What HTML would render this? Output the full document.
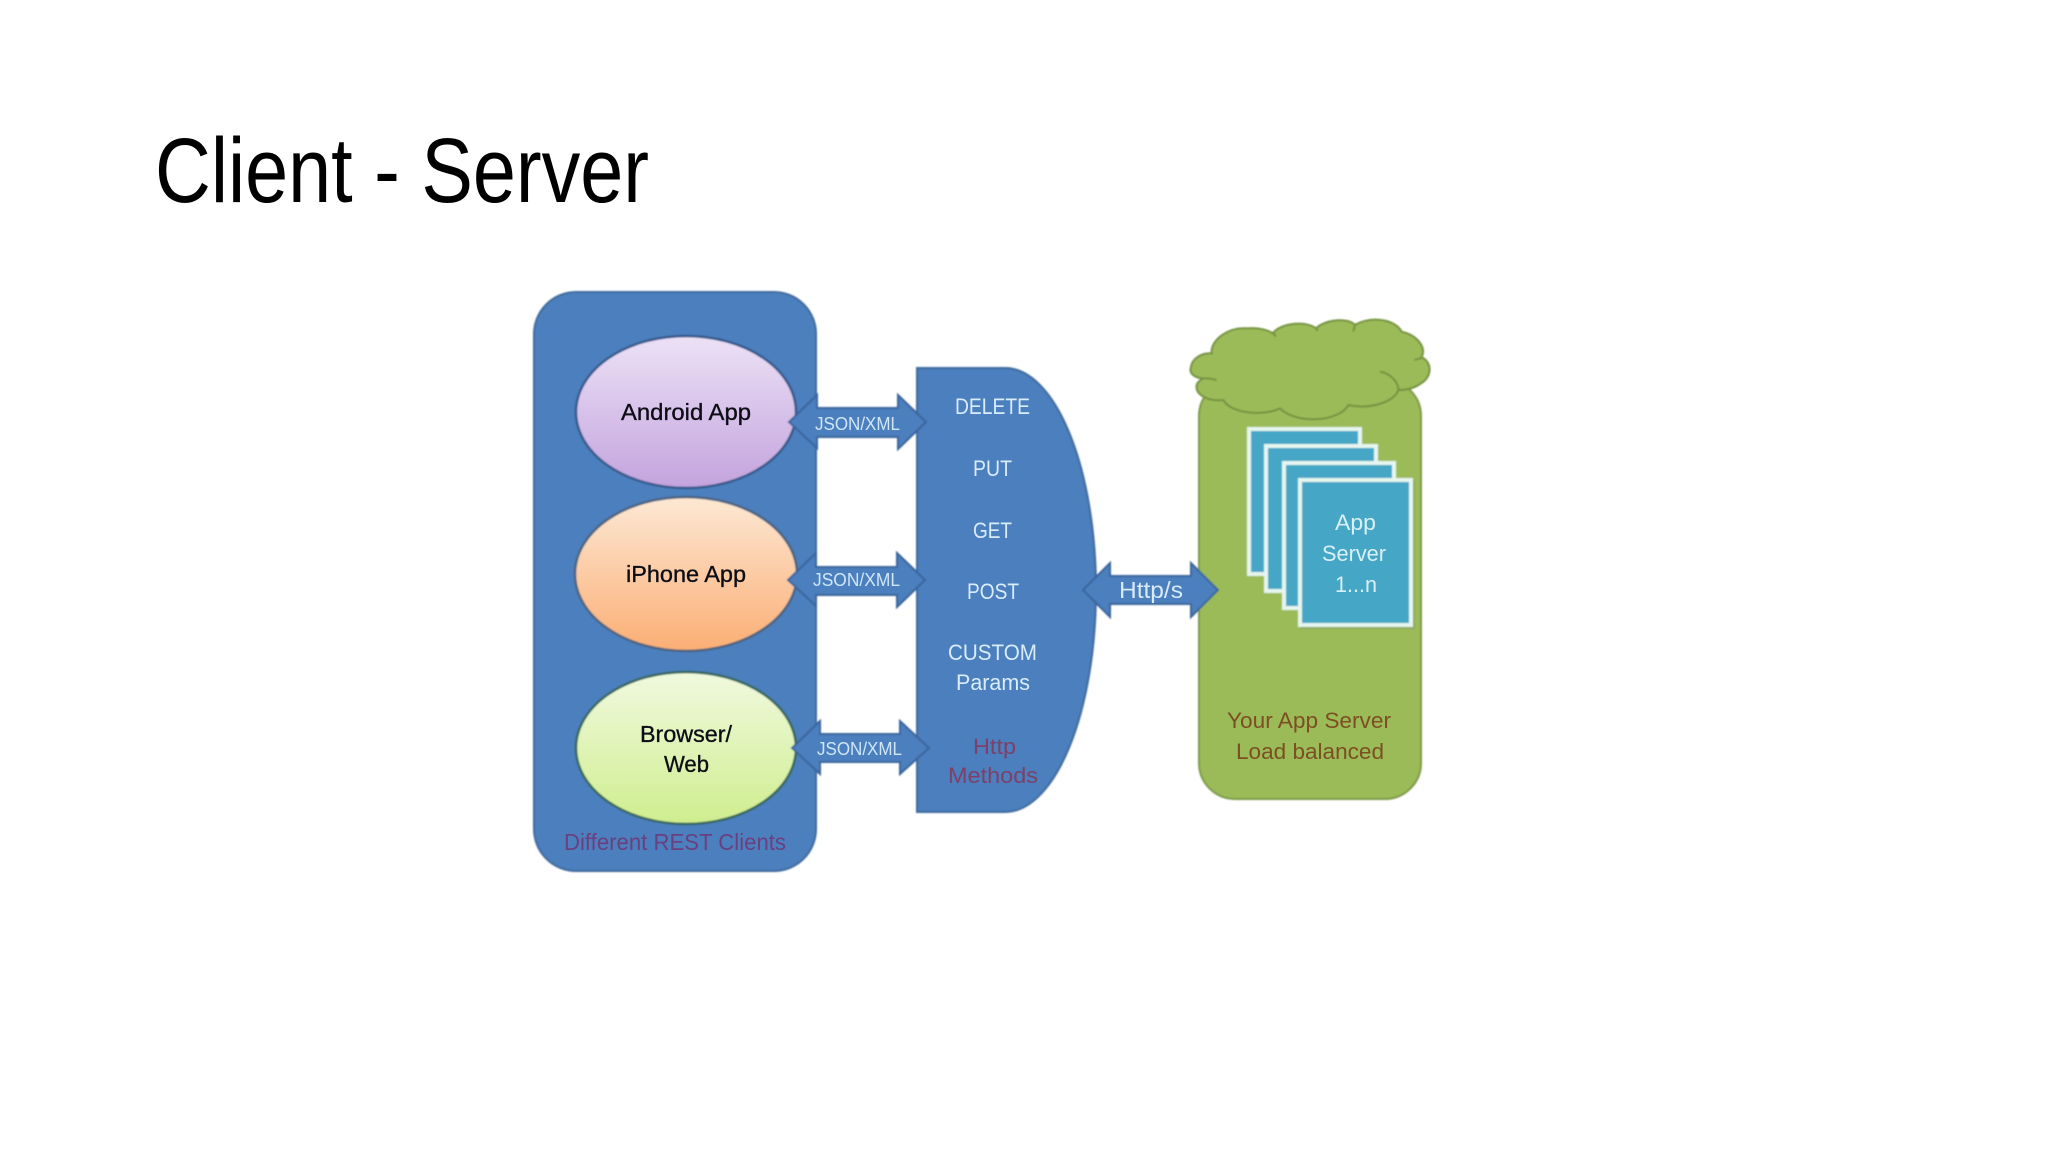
<!DOCTYPE html>
<html lang="en">
<head>
<meta charset="utf-8">
<title>Client - Server</title>
<style>
html,body{margin:0;padding:0;background:#fff}
svg{display:block}
text{font-family:"Liberation Sans",Arial,sans-serif}
</style>
</head>
<body>
<svg xmlns="http://www.w3.org/2000/svg" width="2048" height="1152" viewBox="0 0 2048 1152">
<defs>
<linearGradient id="g1" x1="0" y1="0" x2="0" y2="1"><stop offset="0" stop-color="#ece1f6"/><stop offset="1" stop-color="#c3a3dd"/></linearGradient>
<linearGradient id="g2" x1="0" y1="0" x2="0" y2="1"><stop offset="0" stop-color="#fde8d4"/><stop offset="1" stop-color="#fbae74"/></linearGradient>
<linearGradient id="g3" x1="0" y1="0" x2="0" y2="1"><stop offset="0" stop-color="#f0f9df"/><stop offset="1" stop-color="#cfee8e"/></linearGradient>
<filter id="soft" x="-2%" y="-2%" width="104%" height="104%"><feGaussianBlur stdDeviation="0.7"/></filter>
<filter id="softer" x="-2%" y="-2%" width="104%" height="104%"><feGaussianBlur stdDeviation="0.35"/></filter>
</defs>
<rect width="2048" height="1152" fill="#fff"/>
<text x="155" y="202" font-size="92" fill="#000" textLength="494" lengthAdjust="spacingAndGlyphs">Client - Server</text>

<g filter="url(#soft)">
<rect x="534" y="292" width="282" height="579" rx="42" ry="42" fill="#4b7fbd" stroke="#3f6a9e" stroke-width="2"/>
<ellipse cx="686" cy="412" rx="110" ry="76" fill="url(#g1)" stroke="#34598c" stroke-width="2.5"/>
<ellipse cx="686" cy="574" rx="111" ry="77" fill="url(#g2)" stroke="#4b6480" stroke-width="2.5"/>
<ellipse cx="686" cy="748" rx="110" ry="76" fill="url(#g3)" stroke="#35665c" stroke-width="2.5"/>

<path d="M917 368 H1005 A91 222 0 0 1 1005 812 H917 Z" fill="#4b7fbd" stroke="#3f6a9e" stroke-width="2"/>

<rect x="1199" y="380" width="222" height="419" rx="36" ry="36" fill="#9bbb59" stroke="#7d9a48" stroke-width="2"/>

<g fill="#4b7fbd" stroke="#3a659c" stroke-width="2" stroke-linejoin="miter">
<path d="M789 422 L817 395 V408 H898 V395 L926 422 L898 449 V437 H817 V448 Z"/>
<path d="M788 580 L816 553 V567 H897 V553 L925 580 L897 607 V595 H816 V606 Z"/>
<path d="M792 748 L820 721 V734 H900 V721 L929 748 L900 774 V762 H820 V774 Z"/>
<path d="M1083 590 L1110 563 V576 H1191 V563 L1218 590 L1191 617 V604 H1110 V617 Z"/>
</g>

<g transform="translate(1180,310) scale(0.33333)">
<path d="M32 175 C35 145 65 128 95 130 C90 95 140 50 200 55 C235 52 265 60 278 70 C300 40 375 30 408 55 C435 28 505 22 525 45 C560 22 640 20 665 65 C710 75 740 110 725 142 C755 155 760 200 720 222 C700 236 675 240 655 240 C645 275 570 300 505 285 C480 335 350 345 300 295 C250 320 150 310 130 270 C85 275 45 255 50 225 C52 218 60 210 70 205 C45 205 28 190 32 175 Z" fill="#9bbb59" stroke="#74923f" stroke-width="6"/>
<path d="M70 205 C85 205 100 207 110 210 M600 185 C630 190 655 215 655 240 M703 150 C713 148 722 145 725 142 M278 70 C283 72 285 75 288 80 M408 55 L413 63 M525 45 L520 65" fill="none" stroke="#74923f" stroke-width="6"/>
</g>

<g fill="#45a6c6" stroke="#e6f5ee" stroke-width="4">
<rect x="1249" y="429" width="111" height="145"/>
<rect x="1266" y="446" width="110" height="145"/>
<rect x="1284" y="463" width="110" height="145"/>
<rect x="1300" y="480" width="111" height="145"/>
</g>
<path d="M1300 628 H1414 V480" fill="none" stroke="#7d9468" stroke-width="1.5" opacity=".6"/>
</g>

<g filter="url(#softer)">
<g font-size="23" fill="#101018" stroke="#101018" stroke-width=".35">
<text x="621" y="420" textLength="130" lengthAdjust="spacingAndGlyphs">Android App</text>
<text x="626" y="582" textLength="120" lengthAdjust="spacingAndGlyphs">iPhone App</text>
<text x="640" y="742" textLength="92" lengthAdjust="spacingAndGlyphs">Browser/</text>
<text x="664" y="772" textLength="45" lengthAdjust="spacingAndGlyphs">Web</text>
</g>
<text x="564" y="850" font-size="23" fill="#6a3f80" textLength="222" lengthAdjust="spacingAndGlyphs">Different REST Clients</text>

<g font-size="18" fill="#cfe6f8">
<text x="815" y="430" textLength="85" lengthAdjust="spacingAndGlyphs">JSON/XML</text>
<text x="813" y="586" textLength="87" lengthAdjust="spacingAndGlyphs">JSON/XML</text>
<text x="817" y="755" textLength="85" lengthAdjust="spacingAndGlyphs">JSON/XML</text>
</g>
<text x="1119" y="598" font-size="23" fill="#d6eafa" textLength="64" lengthAdjust="spacingAndGlyphs">Http/s</text>

<g font-size="22" fill="#d8ecfc">
<text x="955" y="414" textLength="75" lengthAdjust="spacingAndGlyphs">DELETE</text>
<text x="973" y="476" textLength="39" lengthAdjust="spacingAndGlyphs">PUT</text>
<text x="973" y="538" textLength="39" lengthAdjust="spacingAndGlyphs">GET</text>
<text x="967" y="599" textLength="52" lengthAdjust="spacingAndGlyphs">POST</text>
<text x="948" y="660" textLength="89" lengthAdjust="spacingAndGlyphs">CUSTOM</text>
<text x="956" y="690" textLength="74" lengthAdjust="spacingAndGlyphs">Params</text>
</g>
<g font-size="22" fill="#7d3f68">
<text x="973" y="754" textLength="43" lengthAdjust="spacingAndGlyphs">Http</text>
<text x="948" y="783" textLength="90" lengthAdjust="spacingAndGlyphs">Methods</text>
</g>

<g font-size="22" fill="#d8f0f4">
<text x="1335" y="530" textLength="41" lengthAdjust="spacingAndGlyphs">App</text>
<text x="1322" y="561" textLength="64" lengthAdjust="spacingAndGlyphs">Server</text>
<text x="1335" y="592" textLength="42" lengthAdjust="spacingAndGlyphs">1...n</text>
</g>
<g font-size="22" fill="#7c4f22">
<text x="1227" y="728" textLength="164" lengthAdjust="spacingAndGlyphs">Your App Server</text>
<text x="1236" y="759" textLength="148" lengthAdjust="spacingAndGlyphs">Load balanced</text>
</g>
</g>
</svg>
</body>
</html>
